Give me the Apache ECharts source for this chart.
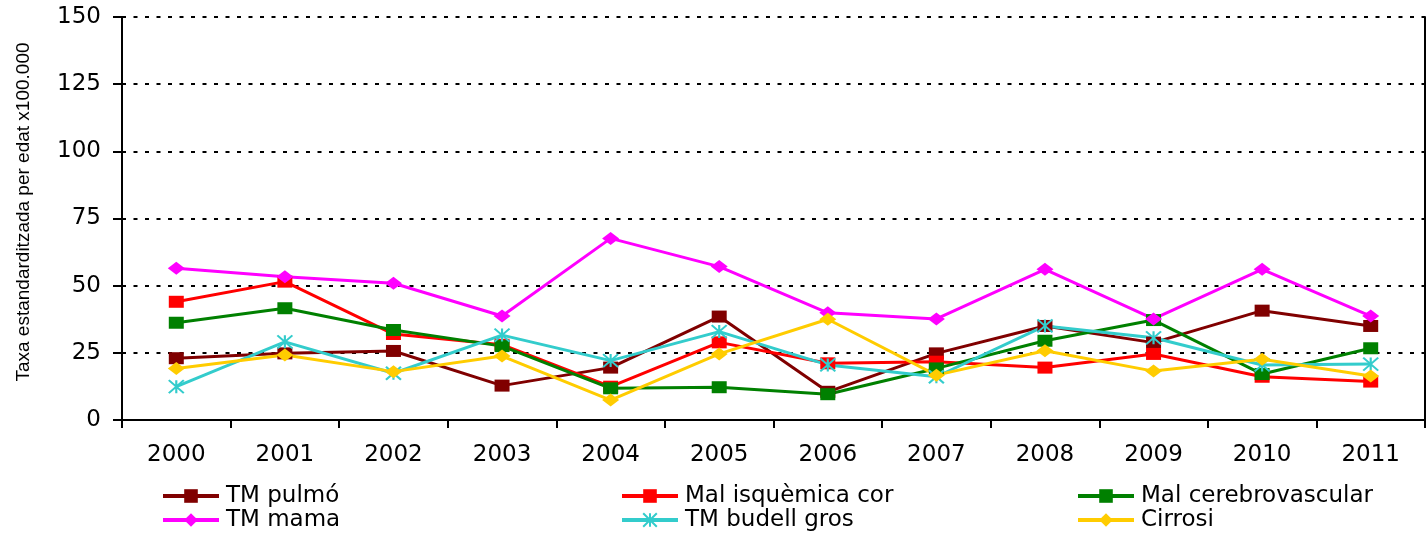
<!DOCTYPE html>
<html>
<head>
<meta charset="utf-8">
<script src="https://cdn.jsdelivr.net/npm/echarts@6/dist/echarts.min.js"></script>
<style>
  html, body { margin: 0; padding: 0; background: #fff; }
  #chart { width: 1428px; height: 533px; }
</style>
</head>
<body>
<div id="chart"></div>
<script>
// Years on the category axis
const years = ['2000', '2001', '2002', '2003', '2004', '2005', '2006', '2007', '2008', '2009', '2010', '2011'];

// Age-standardised rates per 100,000
const tmPulmo = [23.0, 24.8, 25.7, 12.8, 19.5, 38.5, 10.5, 24.8, 35.0, 28.8, 40.7, 35.0];
const malIsquemica = [44.0, 51.5, 32.0, 28.0, 12.4, 28.9, 21.1, 21.7, 19.5, 24.6, 16.1, 14.3];
const malCerebro = [36.2, 41.6, 33.5, 27.5, 11.8, 12.2, 9.6, 19.2, 29.5, 37.2, 17.1, 26.7];
const tmMama = [56.5, 53.3, 50.9, 38.7, 67.6, 57.1, 39.9, 37.6, 56.1, 37.6, 56.1, 38.7];
const tmBudell = [12.4, 29.1, 17.4, 31.6, 22.1, 32.9, 20.5, 16.1, 35.0, 30.6, 20.5, 20.8];
const cirrosi = [19.2, 24.2, 18.0, 23.8, 7.4, 24.6, 37.5, 16.7, 25.8, 18.2, 22.6, 16.4];

// Value-axis ticks
const yMin = 0, yMax = 150, yStep = 25;

const FONT = 'DejaVu Sans';
const asterisk = 'path://M0,0L20,20M20,0L0,20M10,0L10,20';

function lineSeries(name, data, color, symbol, size, extra) {
  const s = {
    name: name,
    type: 'line',
    data: data,
    symbol: symbol,
    symbolSize: size,
    showAllSymbol: true,
    lineStyle: { color: color, width: 3 },
    itemStyle: { color: color },
    emphasis: { disabled: true },
    animation: false
  };
  return Object.assign(s, extra || {});
}

const series = [
  lineSeries('TM pulmó', tmPulmo, '#800000', 'rect', [15, 12]),
  lineSeries('Mal isquèmica cor', malIsquemica, '#FF0000', 'rect', [15, 12]),
  lineSeries('Mal cerebrovascular', malCerebro, '#008000', 'rect', [15, 12]),
  lineSeries('TM mama', tmMama, '#FF00FF', 'diamond', [17, 13]),
  lineSeries('TM budell gros', tmBudell, '#33CCCC', asterisk, [15, 13], {
    itemStyle: { color: 'rgba(0,0,0,0)', borderColor: '#33CCCC', borderWidth: 2 }
  }),
  lineSeries('Cirrosi', cirrosi, '#FFCC00', 'diamond', [17, 13])
];

function legendCol(names, left) {
  return {
    orient: 'vertical',
    left: left,
    top: 484,
    height: 70,
    padding: 0,
    itemWidth: 56,
    itemHeight: 17,
    itemGap: 0,
    data: names,
    selectedMode: false,
    lineStyle: { width: 4 },
    textStyle: { fontFamily: FONT, fontSize: 23, lineHeight: 24, color: '#000', padding: [0, 0, 0, 2] }
  };
}

const chart = echarts.init(document.getElementById('chart'), null, { renderer: 'canvas' });
chart.setOption({
  animation: false,
  backgroundColor: '#fff',
  grid: { left: 122, right: 3, top: 17, bottom: 113 },
  xAxis: {
    type: 'category',
    data: years,
    boundaryGap: true,
    axisLine: { lineStyle: { color: '#000', width: 2 } },
    axisTick: { show: true, length: 8, lineStyle: { color: '#000', width: 2 } },
    axisLabel: { fontFamily: FONT, fontSize: 23, color: '#000', margin: 24 },
    splitLine: { show: false }
  },
  yAxis: [
    {
      type: 'value',
      min: yMin, max: yMax, interval: yStep,
      axisLine: { show: true, lineStyle: { color: '#000', width: 2 } },
      axisTick: { show: true, length: 9, lineStyle: { color: '#000', width: 2 } },
      axisLabel: { fontFamily: FONT, fontSize: 23, color: '#000', margin: 21 },
      splitLine: { show: true, lineStyle: { color: '#000', width: 2, type: [4, 7.5] } }
    },
    {
      type: 'value',
      position: 'right',
      min: yMin, max: yMax, interval: yStep,
      axisLine: { show: true, lineStyle: { color: '#000', width: 2 } },
      axisTick: { show: false },
      axisLabel: { show: false },
      splitLine: { show: false }
    }
  ],
  legend: [
    legendCol(['TM pulmó', 'TM mama'], 161),
    legendCol(['Mal isquèmica cor', 'TM budell gros'], 620),
    legendCol(['Mal cerebrovascular', 'Cirrosi'], 1076)
  ],
  graphic: [
    {
      type: 'text',
      x: 24,
      y: 212,
      rotation: Math.PI / 2,
      style: {
        text: 'Taxa estandarditzada per edat x100.000',
        fontFamily: 'Liberation Sans',
        fontSize: 19,
        fill: '#000',
        align: 'center',
        verticalAlign: 'middle'
      }
    }
  ],
  series: series
});
</script>
</body>
</html>
